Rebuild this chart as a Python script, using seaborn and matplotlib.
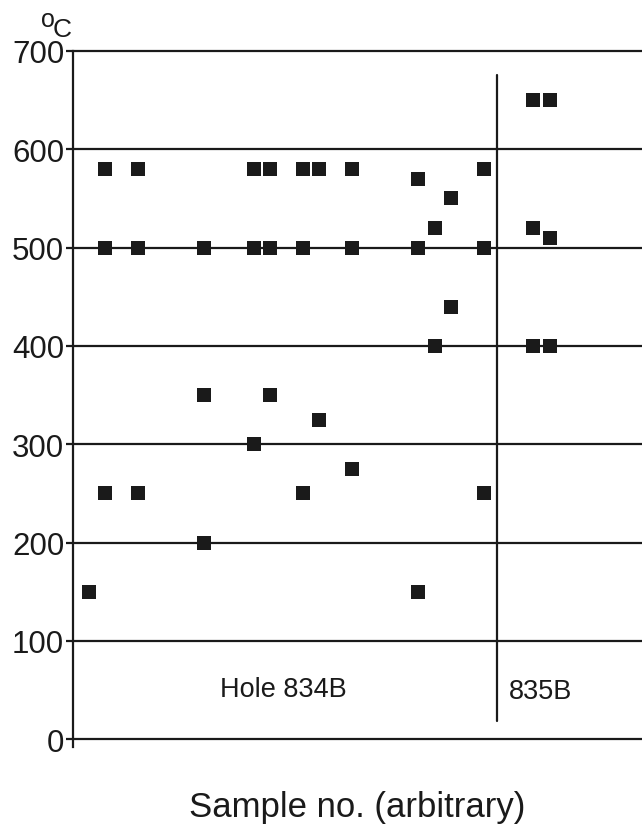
import matplotlib
matplotlib.use("Agg")
import matplotlib.pyplot as plt
import seaborn as sns
import pandas as pd

# ---- data ----
sample = [1, 2, 2, 2, 4, 4, 4, 8, 8, 8, 11, 11, 11, 12, 12, 12,
          14, 14, 14, 15, 15, 17, 17, 17, 21, 21, 21, 22, 22, 23, 23,
          25, 25, 25, 28, 28, 28, 29, 29, 29]
temperature = [150, 580, 500, 250, 580, 500, 250, 500, 350, 200, 580, 500, 300,
               580, 500, 350, 580, 500, 250, 580, 325, 580, 500, 275,
               570, 500, 150, 520, 400, 550, 440, 580, 500, 250,
               650, 520, 400, 650, 510, 400]
y_ticks = [0, 100, 200, 300, 400, 500, 600, 700]
divider_x = 25.8
hole_labels = ["Hole 834B", "835B"]
x_label = "Sample no. (arbitrary)"

df = pd.DataFrame({"sample": sample, "temperature": temperature})

sns.set_style("white")
plt.rcParams["font.family"] = ["Liberation Sans", "DejaVu Sans"]

fig = plt.figure(figsize=(6.42, 8.29), dpi=100)
ax = fig.add_axes([0.113, 0.0977, 0.887, 0.8396])

ink = "#1a1a1a"

for yv in y_ticks:
    ax.axhline(yv, color=ink, lw=1.6, zorder=1, clip_on=False)

ax.plot([divider_x, divider_x], [18, 676], color=ink, lw=1.6, zorder=1)

sns.scatterplot(data=df, x="sample", y="temperature", marker="s", s=90,
                color=ink, edgecolor=ink, linewidth=0, ax=ax, zorder=3, legend=False)

ax.set_xlim(0, 34.6)
ax.set_ylim(-8, 700)
ax.set_yticks(y_ticks)
ax.set_yticklabels([str(v) for v in y_ticks], fontsize=22.5, color=ink)
ax.set_xticks([])
ax.tick_params(axis="y", length=5, width=1.6, color=ink, pad=1, left=True)

for side in ["top", "right", "bottom"]:
    ax.spines[side].set_visible(False)
ax.spines["left"].set_color(ink)
ax.spines["left"].set_linewidth(1.6)

ax.set_xlabel("")
ax.set_ylabel("")

ax.text(12.8, 51, hole_labels[0], fontsize=19.5, ha="center", va="center", color=ink)
ax.text(26.5, 49, hole_labels[1], fontsize=19.5, ha="left", va="center", color=ink)

fig.text(0.557, 1 - 808 / 829, x_label, fontsize=25, ha="center", va="center", color=ink)

fig.text(47.5 / 642, 1 - 20 / 829, "o", fontsize=18, ha="center", va="center", color=ink)
fig.text(62.5 / 642, 1 - 30 / 829, "C", fontsize=19, ha="center", va="center", color=ink)

fig.savefig("out.png", dpi=100, facecolor="white")
